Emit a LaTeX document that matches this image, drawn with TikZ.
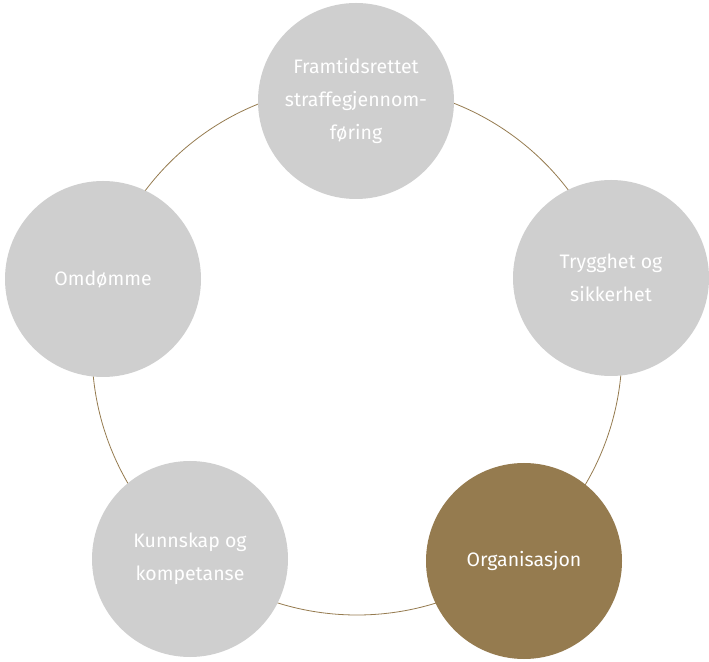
\documentclass[tikz,border=0pt]{standalone}
\usepackage{fontspec}
\setmainfont{Fira Sans}
\definecolor{ringbrown}{HTML}{957B4F}
\definecolor{softgray}{HTML}{CFCFCF}

\begin{document}
\begin{tikzpicture}[x=1pt,y=1pt,
		topic/.style={circle, fill=softgray, minimum size=196pt, inner sep=0pt,
			text=white, align=center, font=\fontsize{19.5}{33}\selectfont},
		focus/.style={topic, fill=ringbrown}]
	\useasboundingbox (0,0) rectangle (709,661);
	
	% The ring behind the circles
	\coordinate (mid) at (357,311);
	\draw[ringbrown, thick] (mid) circle (265);
	
	% The five topics
	\node[topic] (framtid) at (356,560) {Framtidsrettet\\straffegjennom-\\føring};
	\node[topic] (trygghet) at (611,383) {Trygghet og\\sikkerhet};
	\node[focus] (organisasjon) at (524,100) {Organisasjon};
	\node[topic] (kunnskap) at (190,102) {Kunnskap og\\kompetanse};
	\node[topic] (omdomme) at (103,382) {Omdømme};
\end{tikzpicture}
\end{document}
